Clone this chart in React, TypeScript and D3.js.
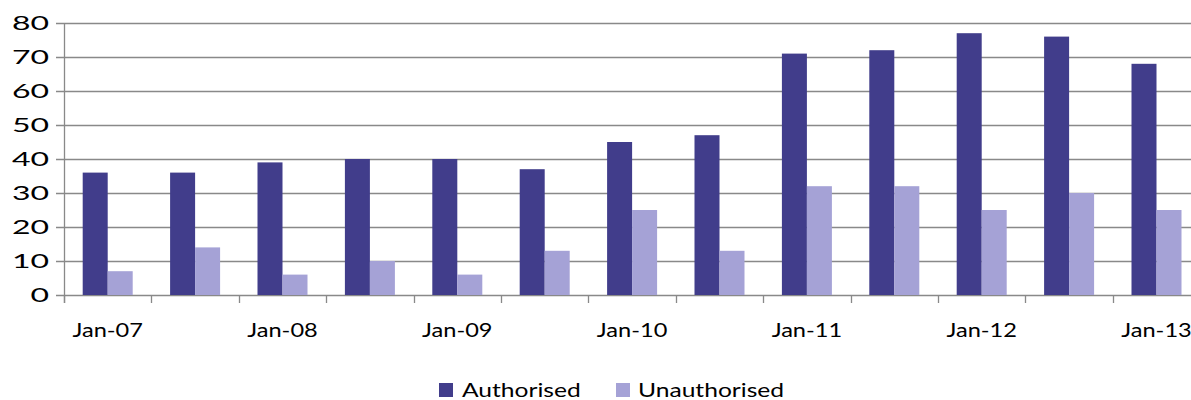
import React from "react";
import * as d3 from "d3";

const categories = ["Jan-07","Jul-07","Jan-08","Jul-08","Jan-09","Jul-09","Jan-10","Jul-10","Jan-11","Jul-11","Jan-12","Jul-12","Jan-13"];
const tickLabels = ["Jan-07","","Jan-08","","Jan-09","","Jan-10","","Jan-11","","Jan-12","","Jan-13"];
const authorised = [36,36,39,40,40,37,45,47,71,72,77,76,68];
const unauthorised = [7,14,6,10,6,13,25,13,32,32,25,30,25];
const yTicks = [0,10,20,30,40,50,60,70,80];
const seriesNames = ["Authorised","Unauthorised"];
const colors = ["#413D8B","#A5A2D6"];

const W = 1191, H = 400;
const left = 64, top = 23, bottom = 295;
const catW = 87.4;
const right = left + catW * categories.length;
const FONT = "Lato, 'Open Sans', sans-serif";
const FS = 20;

export default function App() {
  const x = d3.scaleBand<string>().domain(categories).range([left, right]).paddingInner(0).paddingOuter(0);
  const y = d3.scaleLinear().domain([0, 80]).range([bottom, top]);
  const bw = 25;
  const series = [authorised, unauthorised];
  return (
    <svg width={W} height={H} style={{ position: "absolute", left: 0, top: 0, background: "#fff" }} fontFamily={FONT}>
      {yTicks.map((t) => (
        <g key={t}>
          <line x1={56} x2={right} y1={Math.round(y(t)) + 0.5} y2={Math.round(y(t)) + 0.5} stroke="#898989" strokeWidth={1.3} />
          <text transform={`translate(49,${y(t) + 7}) scale(1.6,1)`} textAnchor="end" fontSize={FS} fill="#000">{t}</text>
        </g>
      ))}
      <line x1={left + 0.5} x2={left + 0.5} y1={top} y2={bottom + 8} stroke="#898989" strokeWidth={1.3} />
      {categories.map((c) => (
        <line key={"t" + c} x1={Math.round(x(c)!) + 0.5} x2={Math.round(x(c)!) + 0.5} y1={bottom} y2={bottom + 8} stroke="#898989" strokeWidth={1.3} />
      ))}
      {series.map((vals, si) =>
        vals.map((v, i) => {
          const cx = x(categories[i])! + x.bandwidth() / 2;
          const bx = si === 0 ? cx - bw : cx;
          return <rect key={si + "-" + i} x={bx} y={y(v)} width={bw} height={bottom - y(v)} fill={colors[si]} />;
        })
      )}
      {categories.map((c, i) =>
        tickLabels[i] ? (
          <text key={"l" + c} transform={`translate(${x(c)! + x.bandwidth() / 2},337) scale(1.18,1)`} textAnchor="middle" fontSize={FS} fill="#000">{tickLabels[i]}</text>
        ) : null
      )}
      <rect x={439} y={383} width={14} height={14} fill={colors[0]} />
      <text transform={`translate(462,397) scale(1.23,1)`} fontSize={FS} fill="#000">{seriesNames[0]}</text>
      <rect x={616} y={383} width={14} height={14} fill={colors[1]} />
      <text transform={`translate(638,397) scale(1.23,1)`} fontSize={FS} fill="#000">{seriesNames[1]}</text>
    </svg>
  );
}
